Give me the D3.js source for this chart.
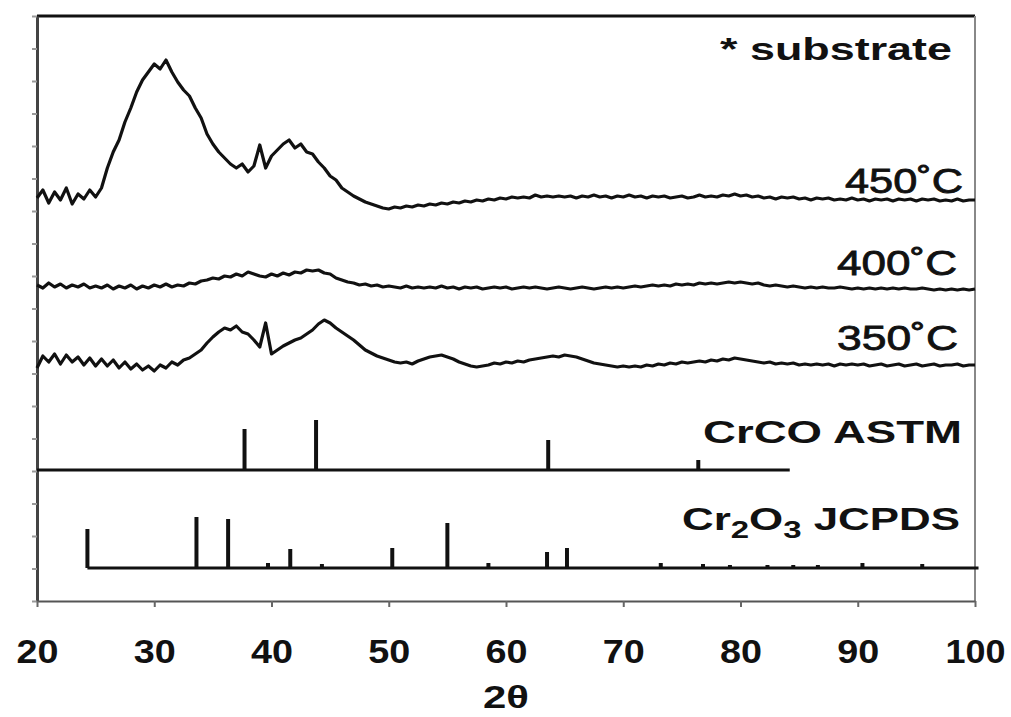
<!DOCTYPE html>
<html>
<head>
<meta charset="utf-8">
<script src="https://cdn.jsdelivr.net/npm/d3@7"></script>
<style>
  body { margin: 0; background: #fff; }
  svg { display: block; }
  text { font-family: "Liberation Sans", Arial, sans-serif; fill: #111; }
</style>
</head>
<body>
<svg id="canvas"></svg>
<script>
// 2theta sampling grid of the scans (degrees)
const twoTheta = d3.range(20, 100.001, 0.5);

// scan intensities (a.u., stacked as in the figure), one value per 0.5 deg
const scan450 = [
  403,411,398,409,401,413,397,407,402,411,
  404,413,433,449,461,479,493,509,521,529,
  537,532,541,529,519,511,505,493,483,467,
  457,449,443,437,433,437,429,435,456,433,
  445,451,457,461,453,457,449,447,439,433,
  425,421,413,409,405,402,399,397,395,393,
  392,394,393,395,394,396,395,397,396,398,
  397,399,398,400,399,401,400,402,401,403,
  402,404,403,404,403,406,404,405,404,405,
  404,405,403,405,404,406,404,405,403,405,
  404,406,404,405,403,405,404,405,403,404,
  405,403,404,406,404,405,404,406,405,407,
  405,406,404,405,403,404,402,404,403,404,
  402,403,401,403,402,403,401,402,401,403,
  401,402,400,402,401,402,400,402,401,402,
  400,402,401,402,400,401,400,402,400,401,
  401
];
const scan400 = [
  316,313,318,314,317,313,316,314,317,313,
  315,313,316,312,315,313,316,312,315,313,
  316,314,317,314,316,315,318,317,320,321,
  323,322,325,324,327,325,329,327,325,324,
  327,325,328,326,329,328,331,330,331,328,
  327,323,321,319,318,316,317,315,316,314,
  315,314,313,315,313,314,313,314,313,315,
  313,314,312,314,313,314,312,313,314,313,
  314,312,313,314,313,314,313,312,313,314,
  313,312,313,314,313,312,313,314,313,314,
  313,314,315,314,315,316,315,316,315,317,
  316,317,316,318,317,318,317,318,319,318,
  319,318,317,318,316,315,316,315,314,315,
  314,313,314,313,314,313,313,314,313,312,
  313,312,313,312,313,312,313,312,313,312,
  312,313,312,311,312,311,312,311,312,311,
  312
];
const scan350 = [
  233,245,239,247,237,246,239,244,236,243,
  235,242,235,241,233,239,232,237,231,235,
  230,236,233,239,236,241,243,247,251,258,
  264,269,273,271,275,269,267,261,254,278,
  247,251,255,258,261,263,267,271,277,281,
  278,273,269,265,261,256,251,248,245,243,
  241,239,238,239,237,240,242,244,245,246,
  244,242,239,237,235,234,235,236,238,237,
  239,238,240,239,241,242,243,244,245,244,
  246,245,244,242,240,238,237,236,235,234,
  235,234,235,234,236,235,237,236,238,237,
  239,238,239,240,239,241,240,242,241,243,
  242,241,240,239,238,239,237,238,237,238,
  236,237,236,237,236,237,235,237,236,237,
  236,237,235,236,237,235,236,237,235,236,
  237,235,236,237,235,236,236,237,235,236,
  236
];

// reference patterns: peak positions (deg) and relative heights
const crcoPeaks = [37.7, 43.8, 63.6, 76.4];
const crcoHeights = [41, 50, 30, 10];
const crcoBase = 131;
const crcoSpan = [20, 84.2];

const cr2o3Peaks = [24.3, 33.6, 36.3, 39.7, 41.6, 44.3, 50.3, 55.0, 58.5, 63.5, 65.2, 73.2, 76.8, 79.1, 82.3, 84.5, 86.6, 90.4, 95.5];
const cr2o3Heights = [39, 51, 49, 5, 19, 4, 20, 45, 5, 16, 20, 5, 4, 3, 3, 3, 3, 5, 4];
const cr2o3Base = 33;
const cr2o3Span = [24.3, 100.3];

const xTicks = [20, 30, 40, 50, 60, 70, 80, 90, 100];
const xTitle = '2θ';

let width = 1011;
let height = 717;

let svg = d3.select('#canvas')
  .attr('width', width)
  .attr('height', height);

let xScale = d3.scaleLinear().domain([20, 100]).range([37, 975]);
let yScale = d3.scaleLinear().domain([0, 585]).range([601, 16]);

/* frame: heavy top edge, thin right edge */
svg.append('line')
  .attr('x1', xScale(20)).attr('x2', xScale(100))
  .attr('y1', yScale(585)).attr('y2', yScale(585))
  .attr('stroke', '#111').attr('stroke-width', 3);
svg.append('line')
  .attr('x1', xScale(100)).attr('x2', xScale(100))
  .attr('y1', yScale(585)).attr('y2', yScale(0))
  .attr('stroke', '#888').attr('stroke-width', 2);

/* axes */
let yAxis = d3.axisLeft(yScale)
  .tickValues(d3.range(0, 585.1, 32.5))
  .tickSize(5).tickSizeOuter(0).tickFormat('');
let gy = svg.append('g')
  .attr('transform', 'translate(' + xScale(20) + ',0)')
  .call(yAxis);
gy.select('.domain').attr('stroke', '#444').attr('stroke-width', 3);
gy.selectAll('.tick line').attr('stroke', '#999').attr('stroke-width', 2);

let xAxis = d3.axisBottom(xScale)
  .tickValues(xTicks).tickSize(6).tickSizeOuter(0);
let gx = svg.append('g')
  .attr('transform', 'translate(0,' + yScale(0) + ')')
  .call(xAxis);
gx.select('.domain').attr('stroke', '#555').attr('stroke-width', 2);
gx.selectAll('.tick line').attr('stroke', '#666').attr('stroke-width', 2);
gx.selectAll('.tick text')
  .attr('y', 62).attr('dy', 0)
  .attr('font-size', 34).attr('font-weight', 'bold')
  .attr('font-family', '"Liberation Sans", Arial, sans-serif')
  .attr('fill', '#111')
  .attr('textLength', d => d >= 100 ? 60 : 42)
  .attr('lengthAdjust', 'spacingAndGlyphs');

svg.append('text')
  .attr('x', xScale(60)).attr('y', 708)
  .attr('text-anchor', 'middle')
  .attr('font-size', 32).attr('font-weight', 'bold')
  .attr('textLength', 46).attr('lengthAdjust', 'spacingAndGlyphs')
  .text(xTitle);

/* scans */
let line = d3.line()
  .x((d, i) => xScale(twoTheta[i]))
  .y(d => yScale(d));

[scan450, scan400, scan350].forEach(s => {
  svg.append('path')
    .datum(s)
    .attr('d', line)
    .attr('fill', 'none')
    .attr('stroke', '#111')
    .attr('stroke-width', 3.2)
    .attr('stroke-linejoin', 'round');
});

/* stick patterns */
let drawSticks = (peaks, heights, base, span) => {
  svg.append('line')
    .attr('x1', xScale(span[0])).attr('x2', xScale(span[1]))
    .attr('y1', yScale(base)).attr('y2', yScale(base))
    .attr('stroke', '#111').attr('stroke-width', 3);
  svg.append('g').selectAll('line')
    .data(peaks)
    .enter()
    .append('line')
    .attr('x1', d => xScale(d)).attr('x2', d => xScale(d))
    .attr('y1', yScale(base))
    .attr('y2', (d, i) => yScale(base + heights[i]))
    .attr('stroke', '#111').attr('stroke-width', 4);
};
drawSticks(crcoPeaks, crcoHeights, crcoBase, crcoSpan);
drawSticks(cr2o3Peaks, cr2o3Heights, cr2o3Base, cr2o3Span);

/* labels */
svg.append('text')
  .attr('x', 720).attr('y', 60)
  .attr('font-size', 32).attr('font-weight', 'bold')
  .attr('textLength', 232).attr('lengthAdjust', 'spacingAndGlyphs')
  .text('* substrate');

[['450˚C', 845, 193, 118], ['400˚C', 837, 275, 120], ['350˚C', 837, 350, 121]].forEach(l => {
  svg.append('text')
    .attr('x', l[1]).attr('y', l[2])
    .attr('font-size', 35)
    .attr('stroke', '#111').attr('stroke-width', 0.8)
    .attr('textLength', l[3]).attr('lengthAdjust', 'spacingAndGlyphs')
    .text(l[0]);
});

svg.append('text')
  .attr('x', 703).attr('y', 443)
  .attr('font-size', 32).attr('font-weight', 'bold')
  .attr('textLength', 259).attr('lengthAdjust', 'spacingAndGlyphs')
  .text('CrCO ASTM');

let cr = svg.append('text')
  .attr('x', 682).attr('y', 530)
  .attr('font-size', 32).attr('font-weight', 'bold')
  .attr('textLength', 278).attr('lengthAdjust', 'spacingAndGlyphs');
cr.append('tspan').text('Cr');
cr.append('tspan').attr('font-size', 24).attr('dy', 8).text('2');
cr.append('tspan').attr('dy', -8).text('O');
cr.append('tspan').attr('font-size', 24).attr('dy', 8).text('3');
cr.append('tspan').attr('dy', -8).text(' JCPDS');
</script>
</body>
</html>
